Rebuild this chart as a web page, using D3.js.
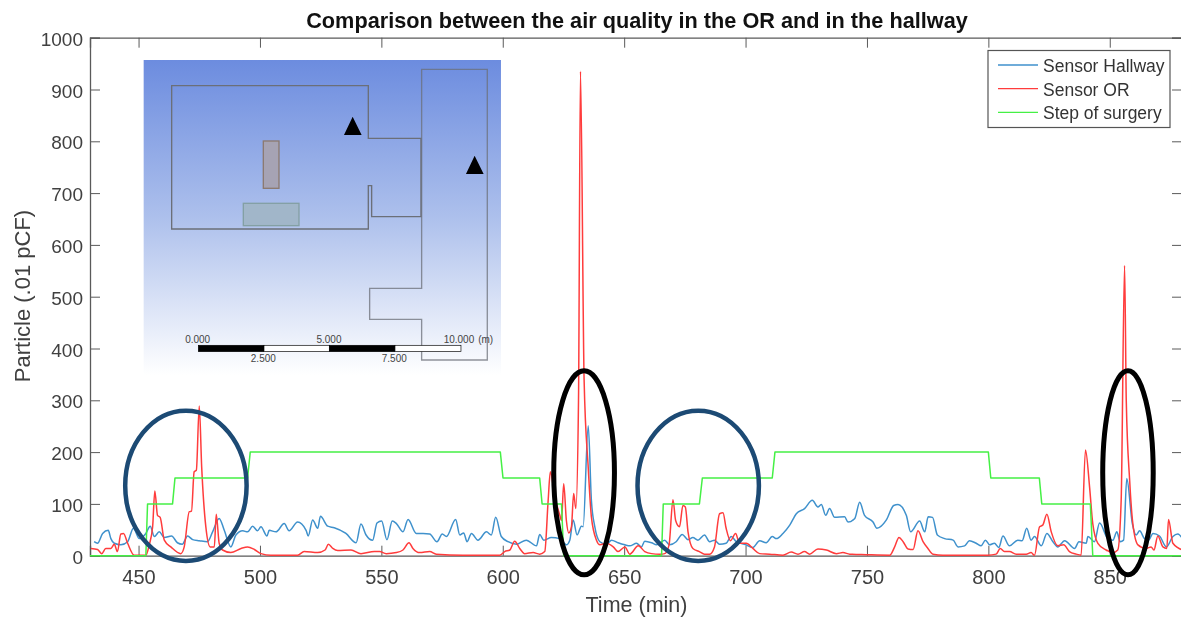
<!DOCTYPE html>
<html><head><meta charset="utf-8">
<script src="https://cdn.jsdelivr.net/npm/d3@7"></script>
<style>html,body{margin:0;padding:0;background:#fff;overflow:hidden}svg{display:block;filter:blur(0.4px)}text{font-family:"Liberation Sans",Arial,sans-serif}</style>
</head><body><svg id="c" width="1181" height="617"></svg>
<script>
const chartTitle="Comparison between the air quality in the OR and in the hallway";
const xLabel="Time (min)", yLabel="Particle (.01 pCF)";
const xTicks=[450,500,550,600,650,700,750,800,850];
const yTicks=[0,100,200,300,400,500,600,700,800,900,1000];
const seriesNames=["Sensor Hallway","Sensor OR","Step of surgery"];
const seriesColors=["#3f91cc","#ff3c3c","#45f045"];

const hallwayTime=[431.7,433.1,435.2,437.5,438.6,440,442.7,445.5,447.9,450.3,453,454.8,456.5,458.5,460.6,463.6,466,468,470.2,472.3,475,478.4,480.5,483.2,485.3,488,490.1,492.9,494.9,497,499,500.4,502.9,503.8,506.6,510,512,515.5,519,519.9,521.7,523.8,524.9,527.9,530.6,535.4,539.6,541.6,543.7,546.4,548.2,550.1,552.3,554.5,556.2,558.9,561,564.4,567.2,569.9,572.9,575.1,576.8,580.6,582.3,583.9,585.3,587.1,589.8,593.3,595.3,597.1,599.4,602.2,605.6,609.7,613.9,615.2,616.9,620,623.5,626.2,627.6,629,630.6,632.4,633.1,635.2,636.5,637.9,640,642.7,644.8,647.5,650.3,652.3,655.1,657.1,658.5,661.3,663.3,666.7,668.7,671.4,673.9,676.3,678.3,680.4,683.1,685.2,687.2,689.3,692,694.1,696.2,699.6,703,705.8,708.5,711,712.7,715.4,718.2,720.9,724.3,727.5,729.8,731.2,733,734.6,736.7,740.8,742.2,745,747,749,752.5,754.1,758,761,762.8,766.2,768,771.7,773.8,775.2,777,779,782,785.5,787.5,790.2,792.2,795,797,798.8,800.5,802.5,804.3,806,808.7,812.1,813.9,815.8,817.6,819,821.8,824.1,826.6,828.6,831.4,835.5,837.3,840.3,841,843.7,845.8,849.2,851.3,852.9,854.3,855.7,857,859.3,860.9,862.3,864.3,866,867.8,870.5,873.3,876,878,880];
const hallwayValue=[27,24,43,49,33,24,21,27,53,33,43,57,37,46,35,38,25,22,38,31,29,27,46,72,49,17,40,48,46,57,48,56,38,49,46,62,48,65,49,38,69,53,76,57,54,43,25,61,40,30,63,67,31,67,62,46,70,43,43,42,27,42,37,70,40,44,27,43,30,46,40,74,37,27,22,30,19,41,30,35,33,21,30,69,40,57,56,251,107,56,27,22,30,25,21,19,24,17,28,25,21,30,21,27,41,31,35,30,40,27,30,22,24,37,27,22,16,29,25,37,33,43,59,81,91,107,94,99,78,91,74,75,65,72,103,78,65,53,69,97,99,78,46,67,46,75,74,40,33,30,17,19,29,24,19,30,21,24,16,38,19,30,29,53,30,37,19,43,27,17,29,14,27,24,37,27,63,33,30,46,27,30,149,62,40,48,33,30,43,38,17,37,42,33];

const orTime=[430.4,433.1,434.8,436.5,438.6,440,441.3,442.7,443.8,445.5,448.2,453,454.4,455.8,456.7,457.8,458.9,460.6,463.3,467.4,468.8,470.9,471.8,472.9,473.8,475,476,477.7,479.5,481.2,482,483.2,484.6,488,492.2,494.9,497.7,500.4,504.5,515.5,518.2,523.8,526.8,528.2,530,532,537.5,541.6,547.1,549.3,552,556.2,558.9,561.4,563,565.8,569.9,572.6,583.6,598.8,600.8,602.9,604.9,607,609,612.5,615.2,617.3,618.7,619.6,621.4,623.5,624.2,625.1,626.2,627.2,628.3,629.2,630.1,631.2,632,633.5,635.2,636.5,638.6,640,642.7,645.5,647.5,650.3,652.3,655.8,658.5,661.3,664.7,666.7,668.5,670.1,671.2,672.8,674.2,675.2,676.3,678.3,681,683.1,685.2,687.2,689.3,690.7,692,693.8,695.9,697.5,700.3,703,705.8,709.9,715.4,718.8,721.6,724.3,726.4,729.8,733.3,737.4,740.1,742.9,749.7,759.4,761.4,763.2,764.9,766.9,769,771,773.1,775.1,777.2,781.3,799.8,803.2,804.9,806.6,808.7,811.5,815.6,817.6,819,821.1,822.4,824.1,825.9,828.6,831,833.4,836.2,838.2,840,841.7,843,845.1,848.5,851.3,853.3,854.7,856.1,856.8,858.2,859.5,861.6,865,867,868.2,869.8,871.9,873.5,874.2,876,880];
const orValue=[14,12,4,14,14,22,8,42,43,24,1,1,21,56,125,78,74,30,17,4,17,85,86,162,165,289,171,56,17,17,80,24,11,6,14,17,12,4,1,1,8,6,11,22,14,10,11,4,8,8,4,6,11,25,14,6,8,3,1,1,8,11,28,14,4,6,3,8,107,162,114,78,68,139,68,44,56,120,91,300,935,340,170,75,30,21,24,17,8,17,3,19,8,4,3,4,21,108,68,56,97,94,46,14,8,3,3,17,81,83,53,29,43,24,24,14,4,3,1,7,3,8,3,13,11,4,6,3,2,1,17,35,27,13,12,48,27,14,3,1,1,3,14,8,8,3,3,6,1,56,59,80,46,19,21,8,3,1,204,132,62,24,11,6,11,107,560,299,145,62,21,14,17,11,38,17,14,70,24,11];

const stepTime=[430,453,453.7,464,465,494.9,496,599,600.1,615.2,616.2,624.2,625.1,665.4,666.1,681,682.2,711,712.1,800,801,821,822,842,843,880];
const stepValue=[0,0,100,100,150,150,200,200,150,150,100,100,0,0,100,100,150,150,200,200,150,150,100,100,0,0];

// annotation ellipses: centre and half-sizes in chart units
const ellipseCx=[469.5,680.5,633.5,857.5];
const ellipseCy=[135,135,160,160];
const ellipseRx=[25,25,12.5,10.4];
const ellipseRy=[145,145,197,197];
const ellipseColors=["#1c4a74","#1c4a74","#000","#000"];

const svg=d3.select("#c");
const x=d3.scaleLinear().domain([430,880]).range([90,1182.6]);
const y=d3.scaleLinear().domain([0,1000]).range([555.7,37.7]);
const axisCol="#5a5a5a";
const textCol="#404040";

function styleAxis(g,fs){
  g.selectAll(".domain").attr("stroke",axisCol).attr("stroke-width",1.3);
  g.selectAll(".tick line").attr("stroke",axisCol).attr("stroke-width",1);
  g.selectAll("text").attr("fill",textCol).attr("font-size",fs).attr("font-family",'"Liberation Sans",Arial,sans-serif');
}
svg.append("g").attr("transform","translate(0,555.7)")
  .call(d3.axisBottom(x).tickValues(xTicks).tickFormat(d3.format("d")).tickSize(-10).tickPadding(14)).call(styleAxis,20);
svg.append("g").attr("transform","translate(0,37.7)")
  .call(d3.axisTop(x).tickValues(xTicks).tickFormat("").tickSize(-10)).call(styleAxis,20);
svg.append("g").attr("transform","translate(90,0)")
  .call(d3.axisLeft(y).tickValues(yTicks).tickFormat(d3.format("d")).tickSize(-10).tickPadding(7)).call(styleAxis,19)
  .selectAll("text").attr("transform","translate(0,1.5)");
svg.append("g").attr("transform","translate(1182,0)")
  .call(d3.axisRight(y).tickValues(yTicks).tickFormat("").tickSize(-10)).call(styleAxis,19);

// inset floor plan (a picture inside the chart), drawn in its own units
const inset=svg.append("g").attr("transform","translate(135,50) scale(0.3333)");
const defs=svg.append("defs");
const grad=defs.append("linearGradient").attr("id","ig").attr("x1",0).attr("x2",0).attr("y1",0).attr("y2",1);
grad.append("stop").attr("offset","0").attr("stop-color","#6c8cdf");
grad.append("stop").attr("offset","0.5").attr("stop-color","#adc0ec");
grad.append("stop").attr("offset","1").attr("stop-color","#ffffff");
inset.append("rect").attr("x",26).attr("y",30).attr("width",1072).attr("height",945).attr("fill","url(#ig)");
const planLine="#6b6f78";
inset.append("path").attr("d","M110,107H700V265H858V500H710V407H700V537H110Z").attr("fill","none").attr("stroke",planLine).attr("stroke-width",4);
inset.append("path").attr("d","M860,58H1057V930H860V808H704V715H860Z").attr("fill","none").attr("stroke",planLine).attr("stroke-width",4).attr("stroke-opacity",0.75);
inset.append("rect").attr("x",385).attr("y",273).attr("width",47).attr("height",142).attr("fill","#a6a3b4").attr("stroke","#8c7a70").attr("stroke-width",4);
inset.append("rect").attr("x",325).attr("y",460).attr("width",167).attr("height",67).attr("fill","#a1b6c9").attr("stroke","#84a0a4").attr("stroke-width",4);
inset.append("path").attr("d","M653,200L627,255H680Z M1019,317L993,372H1046Z").attr("fill","#000");
[[190,197,"#000"],[387,196,"#fff"],[583,197,"#000"],[780,198,"#fff"]].forEach(s=>{
  inset.append("rect").attr("x",s[0]).attr("y",886).attr("width",s[1]).attr("height",19).attr("fill",s[2]).attr("stroke","#000").attr("stroke-width",2);
});
[["0.000",188,880],["5.000",582,880],["10.000",972,880],["(m)",1052,880],["2.500",385,935],["7.500",778,935]].forEach(t=>{
  inset.append("text").attr("x",t[1]).attr("y",t[2]).attr("text-anchor","middle").attr("font-size",30).attr("fill","#444").text(t[0]);
});

// series
const line=d3.line().x(d=>x(d[0])).y(d=>y(d[1]));
const smooth=d3.line().x(d=>x(d[0])).y(d=>y(d[1])).curve(d3.curveMonotoneX);
const lines=[d3.zip(hallwayTime,hallwayValue),d3.zip(orTime,orValue),d3.zip(stepTime,stepValue)];
const clip=defs.append("clipPath").attr("id","pc");
clip.append("rect").attr("x",90).attr("y",37).attr("width",1093).attr("height",520);
svg.append("g").attr("clip-path","url(#pc)").selectAll("path").data(lines).join("path")
  .attr("d",(d,i)=>i==2?line(d):smooth(d)).attr("fill","none").attr("stroke-linejoin","round")
  .attr("stroke",(d,i)=>seriesColors[i]).attr("stroke-width",1.5);

// ellipses
svg.append("g").selectAll("ellipse").data(ellipseCx).join("ellipse")
  .attr("cx",d=>x(d)).attr("cy",(d,i)=>y(ellipseCy[i]))
  .attr("rx",(d,i)=>x(ellipseRx[i])-x(0)).attr("ry",(d,i)=>y(0)-y(ellipseRy[i]))
  .attr("fill","none").attr("stroke",(d,i)=>ellipseColors[i]).attr("stroke-width",(d,i)=>i<2?4.5:5);

// legend
const lg=svg.append("g");
lg.append("rect").attr("x",988).attr("y",50.5).attr("width",182).attr("height",77).attr("fill","#fff").attr("stroke","#555").attr("stroke-width",1.2);
seriesNames.forEach((n,i)=>{
  const yy=65+i*23.7;
  lg.append("line").attr("x1",998).attr("x2",1038).attr("y1",yy).attr("y2",yy).attr("stroke",seriesColors[i]).attr("stroke-width",1.3);
  lg.append("text").attr("x",1043).attr("y",yy+7).attr("font-size",17.5).attr("fill","#333").text(n);
});

// titles
svg.append("text").attr("x",637).attr("y",28).attr("text-anchor","middle").attr("font-size",21.7).attr("font-weight","bold").attr("fill","#111").text(chartTitle);
svg.append("text").attr("x",636.5).attr("y",612).attr("text-anchor","middle").attr("font-size",21.5).attr("fill",textCol).text(xLabel);
svg.append("text").attr("transform","translate(30,296) rotate(-90)").attr("text-anchor","middle").attr("font-size",22).attr("fill",textCol).text(yLabel);
</script></body></html>
